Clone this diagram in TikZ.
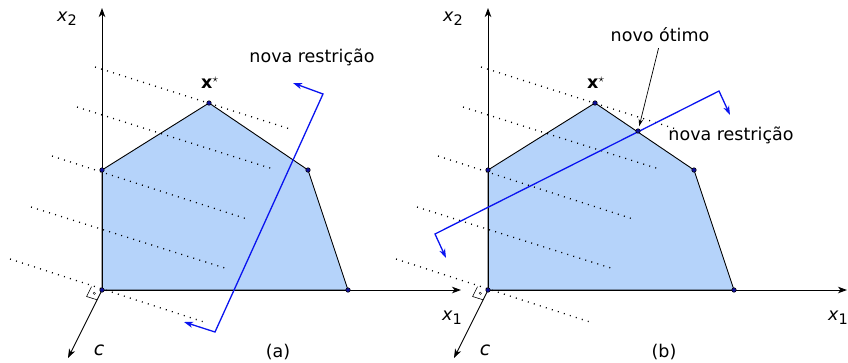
\documentclass[tikz,border=0pt]{standalone}
\usepackage{fontspec}
\setmainfont{DejaVu Sans}
\usetikzlibrary{arrows.meta}
\definecolor{feasible}{HTML}{B5D3FA}
\definecolor{cutblue}{HTML}{0A14F0}
\definecolor{dotblue}{HTML}{10109A}
\newcommand{\axlbl}[2]{\textit{#1}\raisebox{-0.4ex}{\fontsize{14.5}{16}\selectfont #2}}
\tikzset{
  axis/.style={-{Stealth[length=9pt,width=6.5pt,inset=2.5pt]},line width=0.9pt},
  isoline/.style={line width=1.3pt,dash pattern=on 1pt off 5.3pt},
  region/.style={draw=black,line width=0.9pt,line join=round},
  vertex/.style={circle,draw=black,fill=dotblue,line width=0.5pt,inner sep=0pt,minimum size=4.5pt},
  cut/.style={draw=cutblue,line width=1.3pt,{Stealth[length=9pt,width=6pt,inset=2.5pt]}-{Stealth[length=9pt,width=6pt,inset=2.5pt]}},
  lbl/.style={font=\fontsize{17.5}{21}\selectfont,inner sep=0pt},
  pointer/.style={-{Stealth[length=7pt,width=4.5pt]},line width=0.7pt},
}
\begin{document}
\begin{tikzpicture}[x=1pt,y=-1pt]
  \useasboundingbox (0,0) rectangle (848,362);
  \foreach \p/\dx in {a/0,b/386}{
    \begin{scope}[xshift=\dx pt]
      \coordinate (\p-O) at (102,290);
      \coordinate (\p-A) at (102,170);
      \coordinate (\p-X) at (209,103);
      \coordinate (\p-B) at (308,170);
      \coordinate (\p-C) at (348,290);
      \fill[feasible] (\p-O) -- (\p-A) -- (\p-X) -- (\p-B) -- (\p-C) -- cycle;
      % level lines of the objective
      \draw[isoline] (95,67) -- (290,129);
      \draw[isoline] (77,107) -- (273,169);
      \draw[isoline] (52,156) -- (247,219);
      \draw[isoline] (31,207) -- (228,269);
      \draw[isoline] (10,259) -- (207,323);
      \coordinate (\p-x2end) at (102,8);
      \coordinate (\p-x1end) at (461,290);
      \coordinate (\p-cend) at (68,358);
      \draw[axis] (\p-O) -- (\p-x2end);
      \draw[axis] (\p-O) -- (\p-x1end);
      \draw[axis] (\p-O) -- (\p-cend);
      \draw[line width=0.6pt] (\p-O) ++(-10.5,-3.3) -- ++(-4.9,9.8) -- ++(10.5,3.3);
      \draw[line width=0.4pt] (\p-O) ++(-7.7,3.3) circle (1.2);
      \draw[region] (\p-O) -- (\p-A) -- (\p-X) -- (\p-B) -- (\p-C) -- cycle;
      \node[lbl] (\p-x2) at (67,19) {\axlbl{x}{2}};
      \node[lbl] (\p-x1) at (452,318) {\axlbl{x}{1}};
      \node[lbl,font=\fontsize{19}{22}\selectfont] (\p-c) at (99,350) {\textit{c}};
      \node[lbl] (\p-xstar) at (210,83) {\textbf{x}$^\star$};
      \node[lbl] (\p-tag) at (278,352) {(\p)};
    \end{scope}
  }
  % (a) new constraint
  \coordinate (a-h1) at (184,322);
  \coordinate (a-p1) at (215,332);
  \coordinate (a-p2) at (323,94);
  \coordinate (a-h2) at (293,83);
  \draw[cut] (a-h1) -- (a-p1) -- (a-p2) -- (a-h2);
  \node[lbl] (a-cutlbl) at (312,57) {nova restrição};
  % (b) new constraint and new optimum
  \coordinate (b-h1) at (446,258);
  \coordinate (b-p1) at (435,234);
  \coordinate (b-p2) at (719,91);
  \coordinate (b-h2) at (730,115);
  \coordinate (b-N) at (638,131);
  \draw[cut] (b-h1) -- (b-p1) -- (b-p2) -- (b-h2);
  \node[lbl] (b-cutlbl) at (731,135) {nova restrição};
  \node[lbl] (newopt) at (660,35) {novo ótimo};
  \draw[pointer,shorten <=6pt,shorten >=5pt] (newopt.south) -- (b-N);
  \foreach \v in {a-O,a-A,a-X,a-B,a-C,b-O,b-A,b-X,b-B,b-C,b-N}
    \node[vertex] (dot-\v) at (\v) {};
\end{tikzpicture}
\end{document}
